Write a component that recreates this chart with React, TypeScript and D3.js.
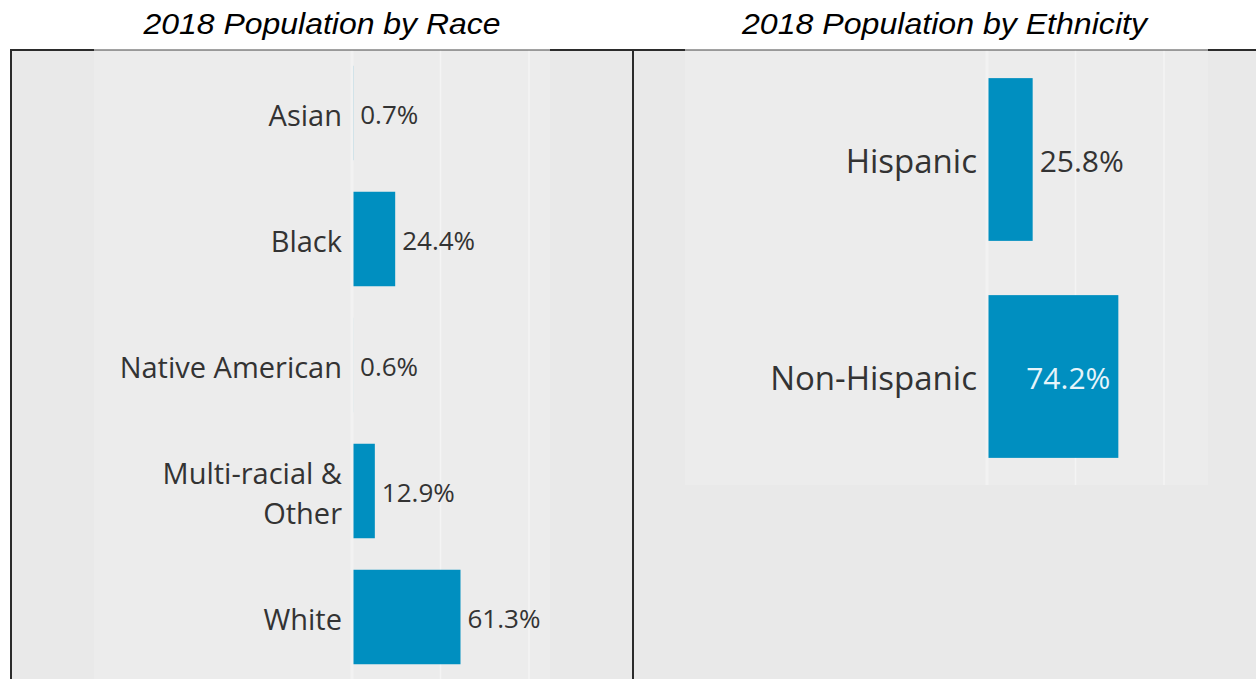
import React from 'react';
import * as d3 from 'd3';

const raceCategories = ['Asian', 'Black', 'Native American', 'Multi-racial & Other', 'White'];
const raceValues = [0.7, 24.4, 0.6, 12.9, 61.3];
const ethnicityCategories = ['Hispanic', 'Non-Hispanic'];
const ethnicityValues = [25.8, 74.2];
const gridTicks = [0, 50, 100];

const W = 1256;
const H = 679;
const BAR = '#008fc0';
const TEXT = '#333333';
const FONT = '"Open Sans", "Noto Sans", sans-serif';

type PanelProps = {
  title: string;
  titleWidth: number;
  cats: string[];
  vals: number[];
  left: number;
  right: number;
  paneLeft: number;
  paneRight: number;
  zeroX: number;
  hundredX: number;
  paneTop: number;
  paneBottom: number;
  labelSize: number;
  valueSize: number;
};

function Panel(p: PanelProps) {
  const top = 50;
  const x = d3.scaleLinear().domain([0, 100]).range([p.zeroX, p.hundredX]);
  const y = d3
    .scaleBand<string>()
    .domain(p.cats)
    .range([p.paneTop, p.paneBottom])
    .paddingInner(0.25)
    .paddingOuter(0.125);
  const cx = (p.left + p.right) / 2;
  return (
    <g>
      <rect x={p.left} y={top} width={p.right - p.left} height={H - top} fill="#e9e9e9" />
      <rect x={p.paneLeft} y={top} width={p.paneRight - p.paneLeft} height={p.paneBottom - top} fill="#ececec" />
      {gridTicks
        .filter((t) => t !== 0)
        .map((t) => (
          <line key={t} x1={x(t)} x2={x(t)} y1={top} y2={p.paneBottom} stroke="#f4f4f4" strokeWidth={1.5} />
        ))}
      {p.cats.map((c, i) => {
        const v = p.vals[i];
        return <rect key={c} x={x(0)} y={y(c)} width={x(v) - x(0)} height={y.bandwidth()} fill={BAR} />;
      })}
      <line x1={x(0)} x2={x(0)} y1={top} y2={p.paneBottom} stroke="#f2f2f2" strokeWidth={3} />
      {p.cats.map((c, i) => {
        const v = p.vals[i];
        const yc = y(c)! + y.bandwidth() / 2 + 1;
        const inside = v > 70;
        const lines = c === 'Multi-racial & Other' ? ['Multi-racial &', 'Other'] : [c];
        return (
          <g key={c}>
            {lines.map((ln, j) => (
              <text
                key={j}
                x={x(0) - 10}
                y={yc + (j - (lines.length - 1) / 2) * 40}
                textAnchor="end"
                dominantBaseline="central"
                fontFamily={FONT}
                fontSize={p.labelSize}
                fill={TEXT}
              >
                {ln}
              </text>
            ))}
            <text
              x={inside ? x(v) - 8 : x(v) + 7}
              y={yc}
              textAnchor={inside ? 'end' : 'start'}
              dominantBaseline="central"
              fontFamily={FONT}
              fontSize={p.valueSize}
              fill={inside ? '#e6f4fa' : TEXT}
            >
              {v.toFixed(1) + '%'}
            </text>
          </g>
        );
      })}
      <text
        x={cx}
        y={34}
        textAnchor="middle"
        fontFamily='"Liberation Sans", Arial, sans-serif'
        fontStyle="italic"
        fontSize={29}
        textLength={p.titleWidth}
        lengthAdjust="spacingAndGlyphs"
        fill="#000"
      >
        {p.title}
      </text>
      <line x1={p.left} x2={p.paneLeft} y1={top} y2={top} stroke="#2b2b2b" strokeWidth={2} />
      <line x1={p.paneLeft} x2={p.paneRight} y1={top} y2={top} stroke="#444" strokeWidth={1} />
      <line x1={p.paneRight} x2={p.right} y1={top} y2={top} stroke="#2b2b2b" strokeWidth={2} />
    </g>
  );
}

export default function App() {
  return (
    <svg width={W} height={H} style={{ position: 'absolute', left: 0, top: 0, background: '#fff' }}>
      <Panel
        title="2018 Population by Race"
        titleWidth={357}
        cats={raceCategories}
        vals={raceValues}
        left={11}
        right={633}
        paneLeft={94}
        paneRight={550}
        zeroX={352}
        hundredX={529}
        paneTop={50}
        paneBottom={680}
        labelSize={29}
        valueSize={26}
      />
      <Panel
        title="2018 Population by Ethnicity"
        titleWidth={405}
        cats={ethnicityCategories}
        vals={ethnicityValues}
        left={633}
        right={1256}
        paneLeft={685}
        paneRight={1208}
        zeroX={987}
        hundredX={1164}
        paneTop={51}
        paneBottom={485}
        labelSize={33}
        valueSize={30}
      />
      <line x1={11} x2={11} y1={49} y2={H} stroke="#2b2b2b" strokeWidth={2} />
      <line x1={633} x2={633} y1={49} y2={H} stroke="#2b2b2b" strokeWidth={2} />
    </svg>
  );
}
